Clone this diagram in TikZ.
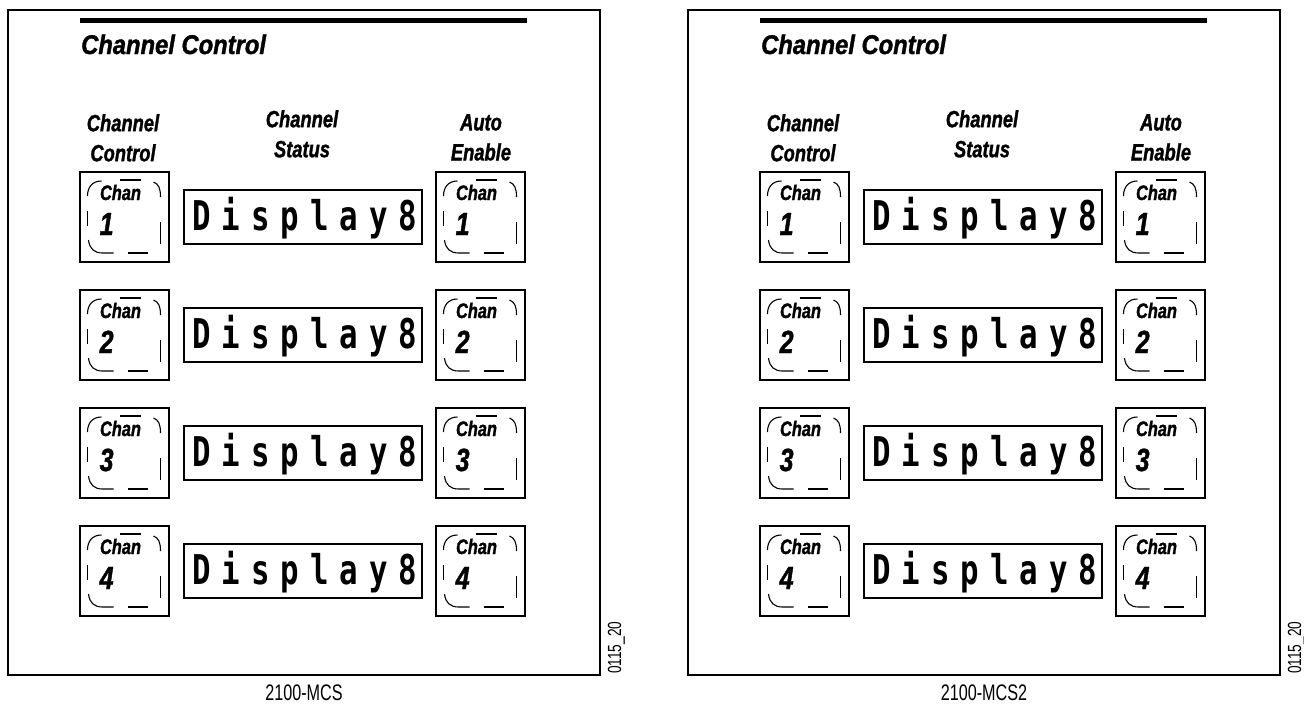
\documentclass[tikz,border=0pt]{standalone}
\usepackage{fontspec}
\setmainfont{Liberation Sans}
\newfontfamily\condfont{Liberation Sans}[FakeStretch=0.72]
\newfontfamily\heavy{Liberation Sans}[FakeStretch=0.78, BoldItalicFeatures={FakeBold=1.3}]
\newfontfamily\titlefont{Liberation Sans}[FakeStretch=0.88, BoldItalicFeatures={FakeBold=1.3}]
\newfontfamily\lcdfont{DejaVu Sans Mono}[FakeStretch=0.75, LetterSpace=26.8]

\tikzset{
  frame/.style={draw, line width=1.4pt},
  topbar/.style={line width=5pt},
  btnbox/.style={draw, line width=1.3pt, minimum width=89pt, minimum height=90pt, inner sep=0pt},
  dispbox/.style={draw, line width=1.3pt, minimum width=238pt, minimum height=54pt, inner sep=0pt},
  rim/.style={line width=1.1pt},
  titletext/.style={inner sep=0pt, font=\titlefont\bfseries\itshape\fontsize{27}{32}\selectfont},
  hdrtext/.style={inner sep=0pt, align=center, font=\heavy\bfseries\itshape\fontsize{23.5}{30}\selectfont},
  chantext/.style={inner sep=0pt, font=\heavy\bfseries\itshape\fontsize{21}{20}\selectfont},
  digittext/.style={inner sep=0pt, font=\heavy\bfseries\itshape\fontsize{32}{31}\selectfont},
  lcdtext/.style={inner sep=0pt, font=\lcdfont\bfseries\fontsize{41}{41}\selectfont},
  captext/.style={inner sep=0pt, font=\condfont\fontsize{22.5}{24}\selectfont},
  sidetext/.style={inner sep=0pt, rotate=90, font=\condfont\fontsize{19}{20}\selectfont},
}

\newcommand\chanbtn[3]{%
  \begin{scope}[shift={(#2)}]
    \node[btnbox] (#1) at (0,0) {};
    \draw[rim] (-37,-21) .. controls (-37,-30) and (-32,-36) .. (-23,-36);
    \draw[rim] (-5,-37) -- (16,-37);
    \draw[rim] (29,-35) .. controls (34,-33) and (36,-29) .. (36,-20);
    \draw[rim] (-37,-6) -- (-37,9);
    \draw[rim] (36,5) -- (36,27);
    \draw[rim] (-36,23) .. controls (-35,32) and (-30,36) .. (-22,36) -- (-11,36);
    \draw[rim] (3,36) -- (23,36);
    \node[chantext, anchor=base] (#1c) at (-4,-17) {Chan};
    \node[digittext, anchor=base west] (#1n) at (-25,18) {#3};
  \end{scope}%
}

\begin{document}
\begin{tikzpicture}[x=1pt, y=-1pt]
\useasboundingbox (0,0) rectangle (1304,704);
\foreach \p/\ox/\cap in {A/0/2100-MCS, B/680/2100-MCS2}{
  \begin{scope}[xshift=\ox]
    \draw[frame] (8,10) rectangle (600,675);
    \draw[topbar] (80,20.5) -- (527,20.5);
    \node[titletext, anchor=base west] (\p-title) at (81,54) {Channel Control};
    \node[hdrtext, anchor=north] (\p-h1) at (123,114) {Channel\\Control};
    \node[hdrtext, anchor=north] (\p-h2) at (302,110) {Channel\\Status};
    \node[hdrtext, anchor=north] (\p-h3) at (481,114) {Auto\\Enable};
    \foreach \r in {1,...,4}{
      \pgfmathsetmacro\cy{217+118*(\r-1)}
      \chanbtn{\p-L\r}{124.5,\cy}{\r}
      \chanbtn{\p-R\r}{480.5,\cy}{\r}
      \node[dispbox] (\p-D\r) at (303,\cy) {};
      \node[lcdtext, anchor=base] (\p-T\r) at (305,\cy+13) {Display8};
    }
    \node[captext, anchor=base] (\p-cap) at (304,700) {\cap};
    \node[sidetext, anchor=base west] (\p-side) at (621,674) {0115\_20};
  \end{scope}
}
\end{tikzpicture}
\end{document}
